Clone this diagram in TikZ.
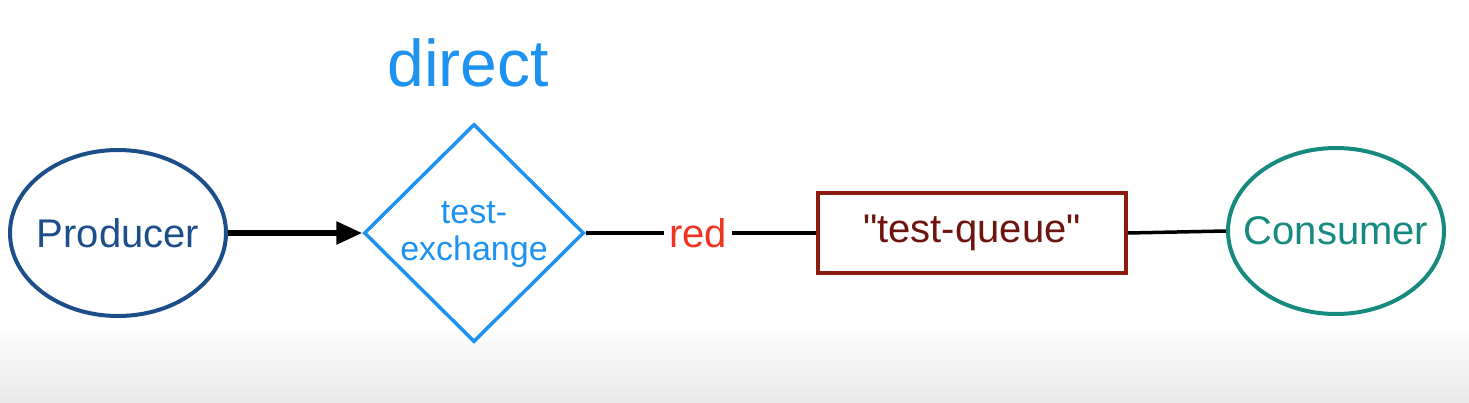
\documentclass[tikz,border=0pt]{standalone}
\usepackage{fontspec}
\setmainfont{Liberation Sans}
\newfontfamily\plainfont{Liberation Sans}
\usetikzlibrary{shapes.geometric,arrows.meta}
\definecolor{prodblue}{HTML}{1C4F8A}
\definecolor{exblue}{HTML}{1E92F0}
\definecolor{redlbl}{HTML}{EE3322}
\definecolor{qred}{HTML}{8A1B0E}
\definecolor{qtext}{HTML}{6E1410}
\definecolor{teal}{HTML}{178A80}
\definecolor{floorgray}{HTML}{E9E9E9}
\tikzset{
  big/.style={font=\fontsize{40}{44}\selectfont},
  ellnode/.style={ellipse, line width=4pt, minimum width=216pt, minimum height=166pt, inner sep=0pt},
  conn/.style={line width=3.5pt, black},
}
\begin{document}
\begin{tikzpicture}[x=1pt,y=-1pt]
\useasboundingbox (0,0) rectangle (1469,402);
\fill[white] (0,0) rectangle (1469,402);
\shade[top color=white, bottom color=floorgray] (0,325) rectangle (1469,402);
\node[ellnode, draw=prodblue] (prod) at (118,233) {};
\node[text=prodblue, big] (prodtxt) at (prod.center) {Producer};
\node[diamond, aspect=1, draw=exblue, line width=3.5pt, minimum width=220pt, minimum height=218pt, inner sep=0pt] (ex) at (474,233) {};
\node[text=exblue, align=center, font=\fontsize{34}{37}\selectfont] (extxt) at (474,235) {test-\\exchange};
\node[text=exblue, font=\fontsize{66}{70}\selectfont] (title) at (468,63) {direct};
\node[text=redlbl, big, inner sep=5pt] (rk) at (698,233) {red};
\node[draw=qred, line width=3.5pt, minimum width=308pt, minimum height=80pt, inner sep=0pt, text=qtext, font=\plainfont\fontsize{40}{44}\selectfont] (q) at (972,233) {"test-queue"};
\node[ellnode, draw=teal] (cons) at (1336,231) {};
\node[text=teal, big] (constxt) at (cons.center) {Consumer};
\draw[line width=5.5pt, -{Triangle[length=26pt,width=22pt]}] (prod.east) -- (ex.west);
\draw[conn] (ex.east) -- (rk.west);
\draw[conn] (rk.east) -- (q.west);
\draw[conn] (q.east) -- (cons.west);
\end{tikzpicture}
\end{document}
